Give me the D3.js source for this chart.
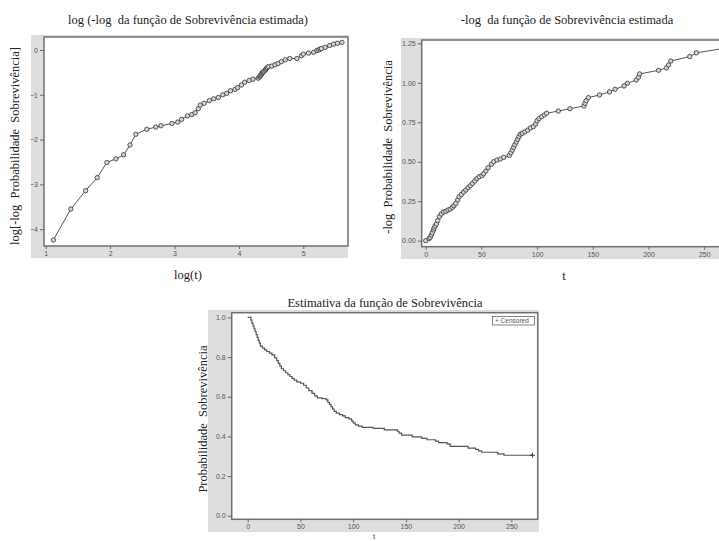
<!DOCTYPE html>
<html>
<head>
<meta charset="utf-8">
<script src="https://cdn.jsdelivr.net/npm/d3@7"></script>
<style>
  body { margin: 0; background: #fff; }
  svg { display: block; }
  .tick text { font-family: "Liberation Sans", Arial, sans-serif; font-size: 7px; fill: #555; }
  .tick line { stroke: #666; }
  .rotulo { font-family: "Liberation Serif", "Times New Roman", serif; fill: #222; white-space: pre; }
</style>
</head>
<body>
<script>
// ---- dados ----

// log(-log S) vs log(t)
var logT = [1.12, 1.39, 1.62, 1.80, 1.95, 2.09, 2.21, 2.31, 2.40, 2.57, 2.71, 2.79, 2.96, 3.05, 3.11, 3.20,
  3.27, 3.32, 3.37, 3.40, 3.46, 3.54, 3.61, 3.68, 3.75, 3.81, 3.87, 3.94, 3.98, 4.04, 4.09, 4.16, 4.22, 4.30,
  4.32, 4.33, 4.34, 4.35, 4.36, 4.37, 4.38, 4.39, 4.41, 4.42, 4.43, 4.44, 4.46, 4.51, 4.56, 4.61, 4.66, 4.72,
  4.79, 4.90, 4.97, 5.00, 5.08, 5.16, 5.21, 5.24, 5.26, 5.28, 5.34, 5.41, 5.47, 5.53, 5.60];
var logMenosLog = [-4.24, -3.55, -3.14, -2.85, -2.51, -2.43, -2.34, -2.12, -1.88, -1.77, -1.72, -1.69, -1.64, -1.61, -1.55, -1.47,
  -1.44, -1.40, -1.31, -1.23, -1.19, -1.13, -1.09, -1.06, -1.00, -0.97, -0.91, -0.88, -0.84, -0.78, -0.72, -0.68, -0.65, -0.63,
  -0.60, -0.58, -0.56, -0.54, -0.52, -0.50, -0.49, -0.47, -0.45, -0.43, -0.41, -0.39, -0.37, -0.36, -0.33, -0.30, -0.26, -0.22,
  -0.19, -0.19, -0.13, -0.09, -0.07, -0.05, -0.01, 0.00, 0.02, 0.03, 0.06, 0.10, 0.13, 0.15, 0.17];

// -log S vs t
var tempoNL = [0, 3, 4, 5, 6, 7, 7.5, 8.4, 9.6, 10.8, 12.3, 14, 16, 18, 20, 22, 24, 25.4, 27, 28.7, 30, 32, 34, 36,
  38, 40, 42, 44, 46, 48, 50.5, 52, 54, 56, 59, 61, 64, 67, 70, 75, 76.5, 77.8, 79, 80, 81.3, 82.5, 83.7, 85,
  86.7, 89, 91.5, 94, 96.6, 98.7, 100, 101.7, 104, 106.5, 108.5, 119, 129.5, 142, 143, 144, 146, 156, 165,
  170, 178, 181, 189, 191, 192, 209, 216, 218, 220, 237, 243, 270];
var menosLogS = [0, 0.013, 0.021, 0.036, 0.05, 0.068, 0.08, 0.093, 0.106, 0.127, 0.152, 0.169, 0.182, 0.186, 0.194, 0.20,
  0.211, 0.222, 0.236, 0.258, 0.279, 0.293, 0.308, 0.321, 0.336, 0.348, 0.363, 0.378, 0.393, 0.405, 0.412, 0.424, 0.441,
  0.462, 0.484, 0.50, 0.511, 0.517, 0.528, 0.54, 0.557, 0.574, 0.591, 0.608, 0.625, 0.642, 0.659, 0.674, 0.68, 0.69,
  0.70, 0.714, 0.722, 0.739, 0.76, 0.773, 0.785, 0.796, 0.807, 0.821, 0.836, 0.853, 0.87, 0.887, 0.906, 0.923, 0.942,
  0.959, 0.98, 0.997, 1.018, 1.035, 1.056, 1.079, 1.094, 1.113, 1.138, 1.166, 1.19, 1.22];

// estimativa de Kaplan-Meier (degraus)
var tempoKM = [0, 3, 4, 5, 6, 7, 8, 9, 10, 11, 12, 14, 16, 18, 20.5, 23, 25.5, 27.5, 29, 30.5, 32, 34, 36, 38, 40,
  42, 44, 46.5, 50, 53, 55.5, 58, 61, 63.5, 66, 70.5, 74.5, 76, 77.5, 79, 80.5, 82, 84, 87, 90, 92.5, 96, 98.5,
  100, 102, 105, 108.5, 119, 129.5, 142, 143.5, 146, 156, 165, 170, 178, 181, 189, 192, 209, 216, 219, 222, 237, 243];
var sobrevKM = [1.000, 0.986, 0.971, 0.957, 0.942, 0.928, 0.913, 0.899, 0.884, 0.870, 0.855, 0.845, 0.836, 0.828, 0.820,
  0.811, 0.796, 0.782, 0.768, 0.754, 0.741, 0.731, 0.721, 0.711, 0.702, 0.693, 0.684, 0.675, 0.668, 0.658, 0.644, 0.631,
  0.617, 0.604, 0.594, 0.590, 0.584, 0.572, 0.561, 0.549, 0.538, 0.526, 0.517, 0.510, 0.503, 0.495, 0.488, 0.478, 0.468,
  0.458, 0.452, 0.446, 0.440, 0.433, 0.426, 0.417, 0.406, 0.398, 0.390, 0.383, 0.376, 0.369, 0.362, 0.350, 0.341, 0.335,
  0.327, 0.320, 0.312, 0.305];
var tempoCensura = [270];
var sobrevCensura = [0.305];

// marcas dos eixos
var ticksLogT = [1, 2, 3, 4, 5];
var ticksLogMenosLog = [-4, -3, -2, -1, 0];
var ticksTempo = [0, 50, 100, 150, 200, 250];
var ticksMenosLog = [0, 0.25, 0.5, 0.75, 1.0, 1.25];
var ticksSobrev = [0, 0.2, 0.4, 0.6, 0.8, 1.0];

var svg = d3.select("body").append("svg")
    .attr("width", 719)
    .attr("height", 541);

// desenha fundo cinza, area branca e eixos de um painel
function painel(x, y, cinza, tx, ty, fx, fy) {
  var r = x.range(), s = y.range();
  svg.append("rect")
      .attr("x", cinza[0]).attr("y", cinza[1])
      .attr("width", cinza[2] - cinza[0]).attr("height", cinza[3] - cinza[1])
      .attr("fill", "#dedede");
  svg.append("rect")
      .attr("x", r[0]).attr("y", s[1])
      .attr("width", r[1] - r[0]).attr("height", s[0] - s[1])
      .attr("fill", "#fff")
      .attr("stroke", "#707070")
      .attr("stroke-width", 1.5);

  var gx = svg.append("g")
      .attr("transform", "translate(0," + s[0] + ")")
      .call(d3.axisBottom(x).tickValues(tx).tickSize(3).tickPadding(2).tickFormat(fx));
  gx.select(".domain").remove();

  var gy = svg.append("g")
      .attr("transform", "translate(" + r[0] + ",0)")
      .call(d3.axisLeft(y).tickValues(ty).tickSize(4).tickPadding(2).tickFormat(fy));
  gy.select(".domain").remove();
}

function texto(txt, x, y, size, rot) {
  var t = svg.append("text")
      .attr("class", "rotulo")
      .attr("text-anchor", "middle")
      .style("font-size", size + "px")
      .text(txt);
  if (rot) {
    t.attr("transform", "translate(" + x + "," + y + ") rotate(-90)").attr("dy", "0.35em");
  } else {
    t.attr("x", x).attr("y", y);
  }
}

function linhaComPontos(x, y, xs, ys) {
  var pts = xs.map(function (d, i) { return [d, ys[i]]; });
  svg.append("path")
      .datum(pts)
      .attr("fill", "none")
      .attr("stroke", "#555")
      .attr("stroke-width", 1)
      .attr("d", d3.line().x(function (d) { return x(d[0]); }).y(function (d) { return y(d[1]); }));
  svg.append("g")
    .selectAll("circle")
    .data(pts)
    .enter()
    .append("circle")
      .attr("cx", function (d) { return x(d[0]); })
      .attr("cy", function (d) { return y(d[1]); })
      .attr("r", 2.2)
      .attr("fill", "#d4d4d4")
      .attr("stroke", "#333")
      .attr("stroke-width", 0.8);
}

// ---- painel 1: log(-log S) ----
var x1 = d3.scaleLinear().domain([0.974, 5.694]).range([44, 348]);
var y1 = d3.scaleLinear().domain([-4.375, 0.29]).range([246, 37]);
painel(x1, y1, [31, 35, 348, 258], ticksLogT, ticksLogMenosLog, d3.format("d"), d3.format("d"));
linhaComPontos(x1, y1, logT, logMenosLog);
texto("log (-log  da função de Sobrevivência estimada)", 188, 24, 12.5);
texto("log(t)", 188, 279, 12.5);
texto("log[-log  Probabilidade  Sobrevivência]", 15, 146, 12.5, true);

// ---- painel 2: -log S ----
var x2 = d3.scaleLinear().domain([-3.6, 283]).range([421.7, 741]);
var y2 = d3.scaleLinear().domain([-0.038, 1.271]).range([246.7, 40]);
painel(x2, y2, [401, 38, 741, 259], ticksTempo, ticksMenosLog, d3.format("d"), d3.format(".2f"));
linhaComPontos(x2, y2, tempoNL, menosLogS);
texto("-log  da função de Sobrevivência estimada", 567, 24, 12.5);
texto("t", 564, 280, 12.5);
texto("-log  Probabilidade  Sobrevivência", 388, 147, 12.5, true);

// ---- painel 3: Kaplan-Meier ----
var x3 = d3.scaleLinear().domain([-15.2, 275]).range([231.7, 537.7]);
var y3 = d3.scaleLinear().domain([-0.018, 1.0237]).range([519.3, 312.7]);
painel(x3, y3, [208, 310, 539, 532], ticksTempo, ticksSobrev, d3.format("d"), d3.format(".1f"));

var degraus = tempoKM.map(function (d, i) { return [d, sobrevKM[i]]; });
degraus.push([tempoCensura[0], sobrevKM[sobrevKM.length - 1]]);
svg.append("path")
    .datum(degraus)
    .attr("fill", "none")
    .attr("stroke", "#555")
    .attr("stroke-width", 1.2)
    .attr("d", d3.line().curve(d3.curveStepAfter)
        .x(function (d) { return x3(d[0]); })
        .y(function (d) { return y3(d[1]); }));

// marca de censura "+"
var cens = svg.append("g").selectAll("g")
    .data(tempoCensura.map(function (d, i) { return [d, sobrevCensura[i]]; }))
    .enter().append("g")
    .attr("transform", function (d) { return "translate(" + x3(d[0]) + "," + y3(d[1]) + ")"; });
cens.append("line").attr("x1", -2.5).attr("x2", 2.5).attr("stroke", "#333");
cens.append("line").attr("y1", -2.5).attr("y2", 2.5).attr("stroke", "#333");

// legenda
var leg = svg.append("g").attr("transform", "translate(492.5,316.5)");
leg.append("rect").attr("width", 42).attr("height", 8.5)
    .attr("fill", "#fff").attr("stroke", "#666").attr("stroke-width", 0.8);
leg.append("text").attr("x", 2.5).attr("y", 6.8)
    .style("font-family", "'Liberation Sans', Arial, sans-serif")
    .style("font-size", "6.5px").style("fill", "#555")
    .text("+  Censored");

texto("Estimativa da função de Sobrevivência", 385, 307, 12.5);
texto("t", 374, 539, 8);
texto("Probabilidade  Sobrevivência", 203, 419, 12.5, true);
</script>
</body>
</html>
